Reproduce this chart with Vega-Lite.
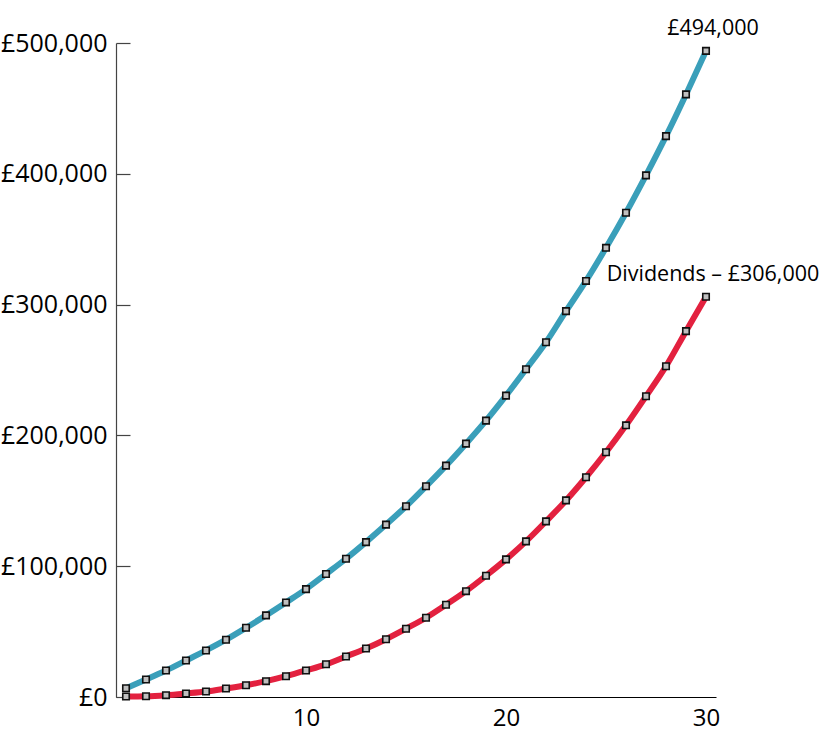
{
  "$schema": "https://vega.github.io/schema/vega-lite/v6.json",
  "width": 600,
  "height": 654,
  "autosize": {"type": "none"},
  "padding": {"left": 116, "top": 43, "right": 116, "bottom": 39},
  "background": "white",
  "config": {
    "view": {"stroke": null},
    "font": "Open Sans",
    "axis": {"grid": false, "labelFont": "Open Sans", "labelColor": "#000", "domainColor": "#333", "domainWidth": 1.2}
  },
  "datasets": {
    "series": [
      {"year": 1, "value": 6700, "series": "Total"},
      {"year": 2, "value": 13400, "series": "Total"},
      {"year": 3, "value": 20300, "series": "Total"},
      {"year": 4, "value": 27900, "series": "Total"},
      {"year": 5, "value": 35600, "series": "Total"},
      {"year": 6, "value": 43800, "series": "Total"},
      {"year": 7, "value": 52900, "series": "Total"},
      {"year": 8, "value": 62400, "series": "Total"},
      {"year": 9, "value": 72300, "series": "Total"},
      {"year": 10, "value": 82500, "series": "Total"},
      {"year": 11, "value": 94000, "series": "Total"},
      {"year": 12, "value": 105700, "series": "Total"},
      {"year": 13, "value": 118400, "series": "Total"},
      {"year": 14, "value": 131800, "series": "Total"},
      {"year": 15, "value": 145800, "series": "Total"},
      {"year": 16, "value": 161100, "series": "Total"},
      {"year": 17, "value": 176900, "series": "Total"},
      {"year": 18, "value": 193700, "series": "Total"},
      {"year": 19, "value": 211300, "series": "Total"},
      {"year": 20, "value": 230400, "series": "Total"},
      {"year": 21, "value": 250600, "series": "Total"},
      {"year": 22, "value": 271200, "series": "Total"},
      {"year": 23, "value": 295000, "series": "Total"},
      {"year": 24, "value": 318100, "series": "Total"},
      {"year": 25, "value": 343400, "series": "Total"},
      {"year": 26, "value": 370200, "series": "Total"},
      {"year": 27, "value": 398800, "series": "Total"},
      {"year": 28, "value": 428800, "series": "Total"},
      {"year": 29, "value": 460700, "series": "Total"},
      {"year": 30, "value": 494000, "series": "Total"},
      {"year": 1, "value": 400, "series": "Dividends"},
      {"year": 2, "value": 600, "series": "Dividends"},
      {"year": 3, "value": 1400, "series": "Dividends"},
      {"year": 4, "value": 2700, "series": "Dividends"},
      {"year": 5, "value": 4200, "series": "Dividends"},
      {"year": 6, "value": 6500, "series": "Dividends"},
      {"year": 7, "value": 9000, "series": "Dividends"},
      {"year": 8, "value": 12100, "series": "Dividends"},
      {"year": 9, "value": 15900, "series": "Dividends"},
      {"year": 10, "value": 20300, "series": "Dividends"},
      {"year": 11, "value": 25000, "series": "Dividends"},
      {"year": 12, "value": 31000, "series": "Dividends"},
      {"year": 13, "value": 37100, "series": "Dividends"},
      {"year": 14, "value": 44200, "series": "Dividends"},
      {"year": 15, "value": 52200, "series": "Dividends"},
      {"year": 16, "value": 60600, "series": "Dividends"},
      {"year": 17, "value": 70500, "series": "Dividends"},
      {"year": 18, "value": 80900, "series": "Dividends"},
      {"year": 19, "value": 92700, "series": "Dividends"},
      {"year": 20, "value": 105200, "series": "Dividends"},
      {"year": 21, "value": 119000, "series": "Dividends"},
      {"year": 22, "value": 134300, "series": "Dividends"},
      {"year": 23, "value": 150300, "series": "Dividends"},
      {"year": 24, "value": 168000, "series": "Dividends"},
      {"year": 25, "value": 187100, "series": "Dividends"},
      {"year": 26, "value": 207700, "series": "Dividends"},
      {"year": 27, "value": 229900, "series": "Dividends"},
      {"year": 28, "value": 252900, "series": "Dividends"},
      {"year": 29, "value": 279700, "series": "Dividends"},
      {"year": 30, "value": 306000, "series": "Dividends"}
    ],
    "labels": [
      {"year": 30, "value": 494000, "text": "£494,000"},
      {"year": 30, "value": 306000, "text": "Dividends – £306,000"}
    ]
  },
  "resolve": {"axis": {"y": "independent"}},
  "layer": [
    {
      "data": {"name": "series"},
      "mark": {"type": "line", "strokeWidth": 6, "interpolate": "monotone"},
      "encoding": {
        "x": {"field": "year", "type": "quantitative", "scale": {"domain": [0.5, 30.5], "nice": false, "zero": false},
              "axis": {"title": null, "values": [10, 20, 30], "ticks": false, "labelFontSize": 24, "labelPadding": 9, "domainColor": "#000"}},
        "y": {"field": "value", "type": "quantitative", "scale": {"domain": [0, 500000], "nice": false},
              "axis": {"title": null, "values": [0, 100000, 200000, 300000, 400000, 500000], "labelExpr": "'£' + format(datum.value, ',')", "labelFontSize": 25, "ticks": false, "labelPadding": 9, "domainColor": "#444"}},
        "color": {"field": "series", "type": "nominal", "scale": {"domain": ["Total", "Dividends"], "range": ["#3a9fba", "#e3213f"]}, "legend": null}
      }
    },
    {
      "data": {"name": "series"},
      "mark": {"type": "point", "shape": "square", "size": 42, "filled": true, "fill": "#bfbfbf", "stroke": "#111", "strokeWidth": 1.6, "opacity": 1},
      "encoding": {
        "x": {"field": "year", "type": "quantitative"},
        "y": {"field": "value", "type": "quantitative",
              "axis": {"title": null, "values": [0, 100000, 200000, 300000, 400000, 500000], "labels": false, "domain": false, "ticks": true, "tickSize": 14, "tickColor": "#444", "tickWidth": 1.2, "offset": -14, "orient": "left"}}
      }
    },
    {
      "data": {"name": "labels"},
      "mark": {"type": "text", "fontSize": 21.5, "align": "center", "baseline": "middle", "dx": 7, "dy": -22, "color": "#000"},
      "encoding": {
        "x": {"field": "year", "type": "quantitative"},
        "y": {"field": "value", "type": "quantitative", "axis": null},
        "text": {"field": "text"}
      }
    }
  ]
}
